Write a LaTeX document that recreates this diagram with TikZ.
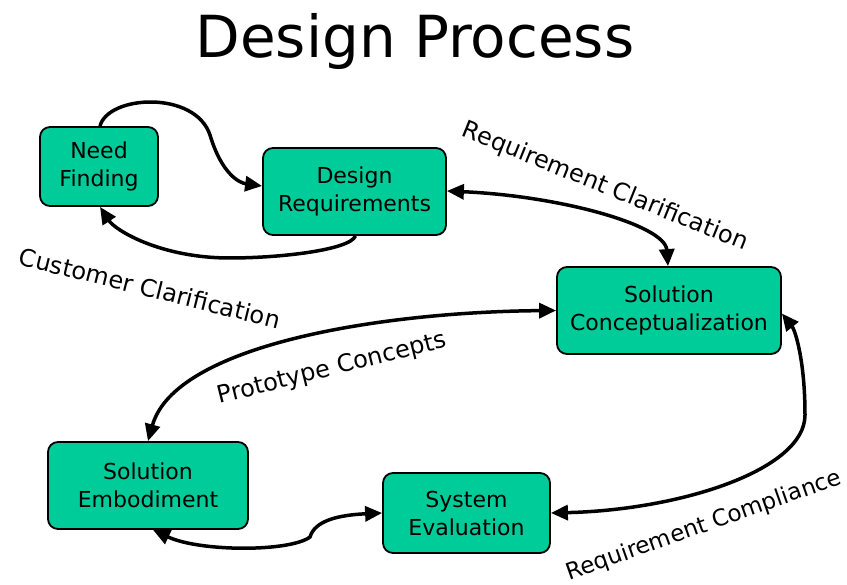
\documentclass[tikz,border=0pt]{standalone}
\usepackage{fontspec}
\setmainfont{DejaVu Sans}
\usetikzlibrary{arrows.meta}
\definecolor{boxgreen}{RGB}{0,204,153}
\begin{document}
\begin{tikzpicture}[x=1pt,y=-1pt,
  proc/.style={draw=black, line width=1.8pt, fill=boxgreen, rounded corners=10pt,
     align=center, font=\fontsize{22}{28}\selectfont, inner sep=0pt},
  tip/.tip={Triangle[length=17pt,width=15pt]},
  flow/.style={line width=3.5pt, -tip},
  bflow/.style={line width=3.5pt, tip-tip},
  lbl/.style={font=\fontsize{24}{28}\selectfont, inner sep=0pt}]
\useasboundingbox (0,0) rectangle (847,585);
\node[font=\fontsize{58}{64}\selectfont] (title) at (415,42) {Design Process};
\node[proc, minimum width=118pt, minimum height=79pt] (nf) at (99,166.5) {Need\\Finding};
\node[proc, minimum width=183pt, minimum height=87pt] (dr) at (354.5,191.5) {Design\\Requirements};
\node[proc, minimum width=224pt, minimum height=87pt] (sc) at (669,310.5) {Solution\\Conceptualization};
\node[proc, minimum width=200pt, minimum height=87pt] (se) at (148,485.5) {Solution\\Embodiment};
\node[proc, minimum width=167pt, minimum height=80pt] (sv) at (466.5,513) {System\\Evaluation};
% Need finding -> design requirements
\draw[flow] ([xshift=1pt]nf.north) .. controls (108,95) and (195,90) .. (210,135)
   .. controls (222,175) and (240,183) .. (dr.west |- 0,186);
% design requirements -> need finding
\draw[flow] ([xshift=1pt]dr.south) .. controls (350,250) and (280,258) .. (230,258)
   .. controls (160,258) and (115,230) .. ([xshift=1pt]nf.south);
% requirement clarification
\draw[bflow] (dr.east |- 0,191) .. controls (560,196) and (665,225) .. ([xshift=-1pt]sc.north);
% prototype concepts
\draw[bflow] (sc.west) .. controls (380,312) and (175,345) .. ([xshift=0pt]se.north);
% embodiment <-> evaluation
\draw[bflow] ([xshift=5pt]se.south) .. controls (200,552) and (290,552) .. (310,537)
   .. controls (315,520) and (340,515) .. (sv.west);
% requirement compliance
\draw[bflow] (sv.east) .. controls (680,510) and (805,470) .. (805,415)
   .. controls (805,360) and (795,330) .. ([yshift=-3pt]sc.east);
% labels
\node[lbl, rotate=-14] (l1) at (150,288) {Customer Clarification};
\node[lbl, rotate=-22] (l2) at (605,187) {Requirement Clarification};
\node[lbl, rotate=14] (l3) at (332,369) {Prototype Concepts};
\node[lbl, rotate=19.5, font=\fontsize{23}{28}\selectfont] (l4) at (704,526) {Requirement Compliance};
\end{tikzpicture}
\end{document}
